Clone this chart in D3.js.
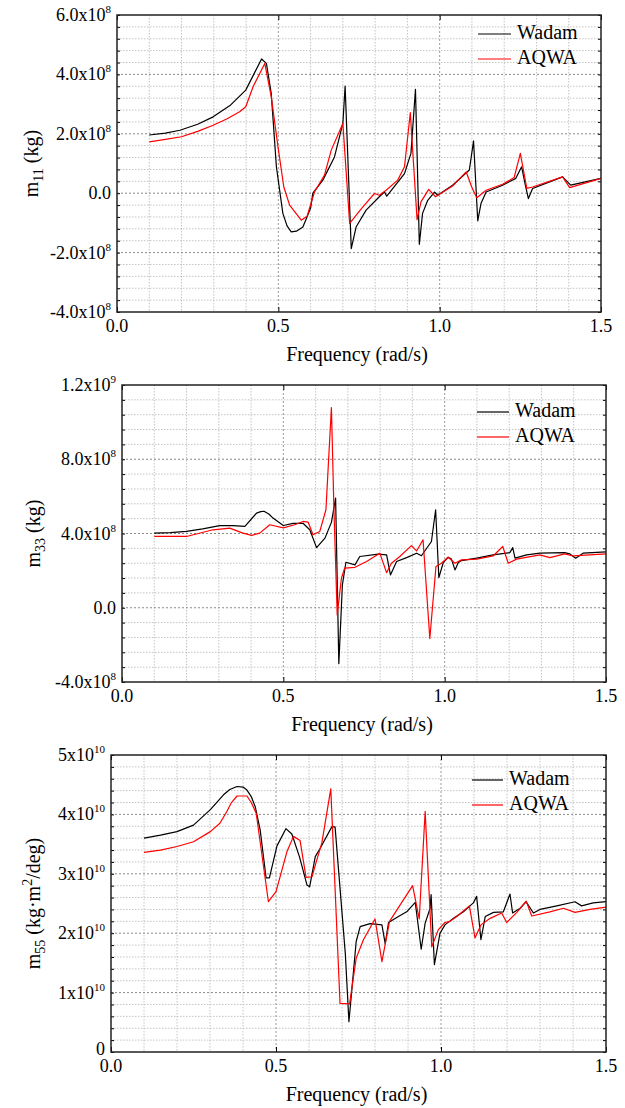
<!DOCTYPE html>
<html>
<head>
<meta charset="utf-8">
<script src="https://cdn.jsdelivr.net/npm/d3@7"></script>
<style>
  body { margin: 0; background: #fff; }
  text { font-family: "Liberation Serif", "Times New Roman", serif; fill: #000; }
</style>
</head>
<body>
<svg id="chart" width="625" height="1108"></svg>
<script>
// frequency ticks shared by all three panels
const freqTicks = [0.0, 0.5, 1.0, 1.5];
const freqTickLabels = ["0.0", "0.5", "1.0", "1.5"];
const seriesNames = ["Wadam", "AQWA"];

// m11, values in 1e8 kg
const m11WadamFreq = [0.10,0.15,0.195,0.25,0.298,0.35,0.399,0.448,0.463,0.478,0.494,0.514,0.527,0.54,0.556,0.576,0.587,0.600,0.607,0.638,0.674,0.70,0.707,0.726,0.741,0.772,0.813,0.829,0.836,0.855,0.891,0.911,0.925,0.937,0.947,0.963,0.984,0.994,1.04,1.092,1.105,1.118,1.128,1.144,1.195,1.236,1.254,1.265,1.275,1.288,1.381,1.406,1.5];
const m11Wadam = [1.96,2.02,2.12,2.32,2.57,2.95,3.47,4.52,4.37,3.36,0.89,-0.68,-1.1,-1.3,-1.28,-1.14,-0.85,-0.5,0.0,0.44,1.22,2.35,3.61,-1.87,-1.14,-0.57,-0.12,0.04,-0.1,0.16,0.66,1.34,3.5,-1.72,-0.68,-0.24,0.04,-0.07,0.27,0.78,1.76,-0.93,-0.35,0.04,0.27,0.5,0.89,0.3,-0.18,0.16,0.55,0.27,0.5];
const m11AqwaFreq = [0.10,0.15,0.20,0.25,0.298,0.34,0.38,0.399,0.422,0.458,0.478,0.499,0.517,0.535,0.571,0.589,0.612,0.643,0.664,0.70,0.721,0.762,0.798,0.813,0.834,0.87,0.891,0.909,0.93,0.942,0.966,0.987,1.04,1.082,1.10,1.115,1.144,1.195,1.231,1.25,1.27,1.288,1.381,1.403,1.5];
const m11Aqwa = [1.73,1.81,1.9,2.08,2.29,2.5,2.74,2.91,3.59,4.37,3.25,1.56,0.21,-0.4,-0.91,-0.78,0.04,0.61,1.45,2.35,-1.02,-0.46,-0.01,-0.07,0.1,0.44,0.89,2.71,-0.89,-0.29,0.13,-0.12,0.24,0.72,0.19,-0.15,0.1,0.3,0.53,1.34,0.16,0.21,0.55,0.19,0.5];
const m11Ticks = [-4, -2, 0, 2, 4, 6];
const m11TickLabels = ["-4.0x10^8", "-2.0x10^8", "0.0", "2.0x10^8", "4.0x10^8", "6.0x10^8"];

// m33, values in 1e8 kg
const m33WadamFreq = [0.10,0.15,0.20,0.25,0.303,0.344,0.381,0.417,0.43,0.440,0.455,0.468,0.50,0.53,0.561,0.582,0.603,0.629,0.649,0.662,0.672,0.683,0.694,0.722,0.737,0.794,0.82,0.832,0.851,0.882,0.913,0.928,0.959,0.972,0.982,0.996,1.011,1.021,1.032,1.042,1.052,1.099,1.15,1.202,1.211,1.218,1.254,1.295,1.372,1.388,1.406,1.429,1.5];
const m33Wadam = [4.02,4.05,4.11,4.25,4.42,4.42,4.38,5.1,5.18,5.2,5.05,4.83,4.43,4.55,4.55,4.2,3.24,3.75,4.6,5.91,-3.01,1.23,2.45,2.31,2.76,2.89,2.85,1.77,2.49,2.7,2.94,2.8,3.57,5.28,1.62,2.45,2.72,2.62,2.04,2.43,2.54,2.67,2.85,2.97,3.24,2.67,2.85,2.94,2.97,2.9,2.67,2.94,3.01];
const m33AqwaFreq = [0.10,0.20,0.282,0.334,0.375,0.402,0.427,0.458,0.50,0.535,0.561,0.577,0.592,0.613,0.632,0.649,0.657,0.667,0.68,0.69,0.722,0.758,0.799,0.82,0.835,0.861,0.897,0.913,0.933,0.954,0.973,0.99,1.011,1.032,1.052,1.099,1.15,1.18,1.197,1.223,1.295,1.326,1.372,1.398,1.5];
const m33Aqwa = [3.84,3.84,4.2,4.29,4.02,3.9,4.02,4.47,4.3,4.47,4.65,4.61,3.93,4.11,5.28,10.78,5.19,-0.39,1.59,2.13,2.18,2.49,2.94,1.89,2.4,2.76,3.35,3.06,3.66,-1.66,2.22,2.4,2.72,2.4,2.58,2.62,2.79,3.3,2.4,2.62,2.85,2.7,2.9,2.79,2.9];
const m33Ticks = [-4, 0, 4, 8, 12];
const m33TickLabels = ["-4.0x10^8", "0.0", "4.0x10^8", "8.0x10^8", "1.2x10^9"];

// m55, values in 1e10 kg·m²/deg
const m55WadamFreq = [0.10,0.15,0.20,0.25,0.301,0.341,0.36,0.382,0.40,0.412,0.425,0.437,0.452,0.47,0.48,0.503,0.53,0.548,0.571,0.594,0.602,0.619,0.634,0.669,0.679,0.71,0.721,0.743,0.755,0.785,0.821,0.831,0.841,0.871,0.896,0.922,0.94,0.952,0.967,0.97,0.98,0.997,1.012,1.038,1.068,1.098,1.108,1.121,1.134,1.159,1.189,1.209,1.217,1.24,1.258,1.28,1.30,1.351,1.406,1.426,1.461,1.5];
const m55Wadam = [3.6,3.65,3.71,3.82,4.08,4.33,4.42,4.47,4.46,4.41,4.3,4.13,3.74,2.93,2.93,3.47,3.76,3.67,3.29,2.81,2.78,3.29,3.43,3.79,3.79,1.66,0.51,1.86,2.11,2.16,2.14,1.82,2.18,2.28,2.36,2.52,1.73,2.17,2.42,2.65,1.47,2.0,2.14,2.25,2.36,2.51,2.62,1.89,2.28,2.35,2.36,2.66,2.34,2.42,2.53,2.34,2.4,2.46,2.53,2.46,2.51,2.53];
const m55AqwaFreq = [0.10,0.15,0.20,0.25,0.301,0.33,0.351,0.365,0.382,0.412,0.425,0.44,0.477,0.50,0.533,0.553,0.573,0.591,0.609,0.624,0.639,0.666,0.694,0.723,0.743,0.765,0.80,0.821,0.844,0.914,0.934,0.952,0.972,0.992,1.012,1.027,1.048,1.086,1.103,1.121,1.149,1.184,1.199,1.23,1.258,1.275,1.33,1.371,1.406,1.452,1.5];
const m55Aqwa = [3.36,3.4,3.46,3.54,3.71,3.85,4.05,4.2,4.31,4.31,4.2,4.02,2.53,2.7,3.37,3.63,3.56,2.94,2.95,3.24,3.52,4.43,0.82,0.81,1.58,1.89,2.24,1.52,2.2,2.8,2.24,4.05,1.77,2.06,2.18,2.2,2.28,2.46,1.92,2.14,2.25,2.34,2.18,2.35,2.54,2.29,2.36,2.42,2.35,2.4,2.44];
const m55Ticks = [0, 1, 2, 3, 4, 5];
const m55TickLabels = ["0", "1x10^10", "2x10^10", "3x10^10", "4x10^10", "5x10^10"];

const svg = d3.select("#chart");

const panels = [
  {
    box: { left: 117, right: 601, top: 15, bottom: 312 },
    yDomain: [-4, 6], yMinorStep: 0.4,
    yTicks: m11Ticks, yTickLabels: m11TickLabels,
    title: [["m", 0], ["11", 1], [" (kg)", 0]], titleX: 38,
    legend: { x1: 478, x2: 511, y: 34, textX: 517 },
    series: [[m11WadamFreq, m11Wadam], [m11AqwaFreq, m11Aqwa]]
  },
  {
    box: { left: 122, right: 606, top: 385, bottom: 682 },
    yDomain: [-4, 12], yMinorStep: 0.8,
    yTicks: m33Ticks, yTickLabels: m33TickLabels,
    title: [["m", 0], ["33", 1], [" (kg)", 0]], titleX: 40,
    legend: { x1: 477, x2: 509, y: 412, textX: 515 },
    series: [[m33WadamFreq, m33Wadam], [m33AqwaFreq, m33Aqwa]]
  },
  {
    box: { left: 111, right: 606, top: 755, bottom: 1052 },
    yDomain: [0, 5], yMinorStep: 0.2,
    yTicks: m55Ticks, yTickLabels: m55TickLabels,
    title: [["m", 0], ["55", 1], [" (kg·m", 0], ["2", -1], ["/deg)", 0]], titleX: 40,
    legend: { x1: 472, x2: 503, y: 780, textX: 509 },
    series: [[m55WadamFreq, m55Wadam], [m55AqwaFreq, m55Aqwa]]
  }
];

const lineColors = ["#000000", "#ff0000"];

// writes "a^b" as a with superscript b
const writeSup = (textSel, label) => {
  const parts = label.split("^");
  textSel.append("tspan").text(parts[0]);
  if (parts[1]) {
    textSel.append("tspan").attr("dy", -8).attr("font-size", 11).text(parts[1]);
  }
};

panels.forEach((p) => {
  const b = p.box;
  const x = d3.scaleLinear().domain([0, 1.5]).range([b.left, b.right]);
  const y = d3.scaleLinear().domain(p.yDomain).range([b.bottom, b.top]);
  const g = svg.append("g");

  //minor grid first, then major grid on top
  const xMinor = d3.range(0.1, 1.5, 0.1).filter((v) => Math.abs(v - 0.5) > 1e-6 && Math.abs(v - 1.0) > 1e-6);
  const yMinor = d3.range(p.yDomain[0], p.yDomain[1], p.yMinorStep).filter((v) => !p.yTicks.some((t) => Math.abs(t - v) < 1e-6));

  g.selectAll(".xminor").data(xMinor).enter().append("line")
    .attr("x1", (d) => x(d)).attr("x2", (d) => x(d))
    .attr("y1", b.top).attr("y2", b.bottom)
    .attr("stroke", "#c4c4c4").attr("stroke-width", 1).attr("stroke-dasharray", "1.5,1.5");
  g.selectAll(".yminor").data(yMinor).enter().append("line")
    .attr("x1", b.left).attr("x2", b.right)
    .attr("y1", (d) => y(d)).attr("y2", (d) => y(d))
    .attr("stroke", "#c4c4c4").attr("stroke-width", 1).attr("stroke-dasharray", "1.5,1.5");
  g.selectAll(".xmajor").data([0.5, 1.0]).enter().append("line")
    .attr("x1", (d) => x(d)).attr("x2", (d) => x(d))
    .attr("y1", b.top).attr("y2", b.bottom)
    .attr("stroke", "#9a9a9a").attr("stroke-width", 1).attr("stroke-dasharray", "2,2");
  g.selectAll(".ymajor").data(p.yTicks.slice(1, -1)).enter().append("line")
    .attr("x1", b.left).attr("x2", b.right)
    .attr("y1", (d) => y(d)).attr("y2", (d) => y(d))
    .attr("stroke", "#8a8a8a").attr("stroke-width", 1).attr("stroke-dasharray", "2,2");

  //inward ticks on all four sides
  const minorAll = d3.range(p.yDomain[0], p.yDomain[1] + 1e-9, p.yMinorStep);
  g.append("g").attr("transform", `translate(${b.left},0)`)
    .call(d3.axisLeft(y).tickValues(minorAll).tickSize(-3).tickFormat(""))
    .call((a) => a.select(".domain").remove());
  g.append("g").attr("transform", `translate(${b.right},0)`)
    .call(d3.axisRight(y).tickValues(minorAll).tickSize(-3).tickFormat(""))
    .call((a) => a.select(".domain").remove());
  g.append("g").attr("transform", `translate(0,${b.bottom})`)
    .call(d3.axisBottom(x).tickValues(freqTicks).tickSize(-5).tickFormat(""))
    .call((a) => a.select(".domain").remove());
  g.append("g").attr("transform", `translate(0,${b.top})`)
    .call(d3.axisTop(x).tickValues(freqTicks).tickSize(-5).tickFormat(""))
    .call((a) => a.select(".domain").remove());

  //lines
  p.series.forEach((s, i) => {
    const pts = s[0].map((f, k) => [f, s[1][k]]);
    g.append("path")
      .datum(pts)
      .attr("fill", "none")
      .attr("stroke", lineColors[i])
      .attr("stroke-width", 1.2)
      .attr("stroke-linejoin", "round")
      .attr("d", d3.line().x((d) => x(d[0])).y((d) => y(d[1])));
  });

  //frame
  g.append("rect")
    .attr("x", b.left).attr("y", b.top)
    .attr("width", b.right - b.left).attr("height", b.bottom - b.top)
    .attr("fill", "none").attr("stroke", "#222").attr("stroke-width", 1.5);

  //x tick labels
  g.selectAll(".xlab").data(freqTicks).enter().append("text")
    .attr("x", (d) => x(d)).attr("y", b.bottom + 20)
    .attr("text-anchor", "middle").attr("font-size", 18)
    .text((d, i) => freqTickLabels[i]);

  //y tick labels
  p.yTicks.forEach((t, i) => {
    const label = p.yTickLabels[i];
    const isZeroAtBottom = t === p.yDomain[0] && !label.includes("^");
    const tx = g.append("text")
      .attr("x", b.left - 6).attr("y", y(t) + (isZeroAtBottom ? 3 : 6))
      .attr("text-anchor", "end").attr("font-size", 18);
    writeSup(tx, label);
  });

  //axis titles
  g.append("text")
    .attr("x", (b.left + b.right) / 2 - 2).attr("y", b.bottom + 49)
    .attr("text-anchor", "middle").attr("font-size", 20)
    .text("Frequency (rad/s)");

  const yt = g.append("text")
    .attr("transform", `translate(${p.titleX},${(b.top + b.bottom) / 2}) rotate(-90)`)
    .attr("text-anchor", "middle").attr("font-size", 20);
  let shift = 0;
  p.title.forEach(([txt, pos]) => {
    const target = pos === 1 ? 5 : pos === -1 ? -8 : 0;
    yt.append("tspan")
      .attr("dy", target - shift)
      .attr("font-size", pos === 0 ? 20 : 14)
      .text(txt);
    shift = target;
  });

  //legend
  const lg = p.legend;
  seriesNames.forEach((name, i) => {
    const ly = lg.y + i * 25;
    g.append("line")
      .attr("x1", lg.x1).attr("x2", lg.x2).attr("y1", ly).attr("y2", ly)
      .attr("stroke", lineColors[i]).attr("stroke-width", 1.2);
    g.append("text")
      .attr("x", lg.textX).attr("y", ly + 5)
      .attr("font-size", 20)
      .text(name);
  });
});
</script>
</body>
</html>
